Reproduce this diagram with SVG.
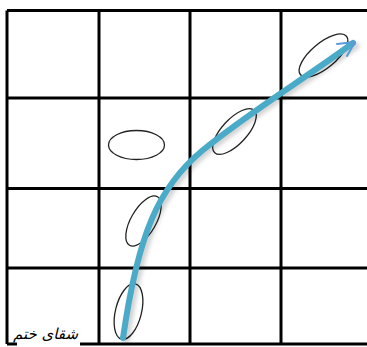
<svg xmlns="http://www.w3.org/2000/svg" width="367" height="347" viewBox="0 0 367 347">
<defs>
<style>
.grid{stroke:#000;stroke-width:3;fill:none}
.ell{fill:none;stroke:#222;stroke-width:1.3}
.path{fill:none;stroke:#4aabc8;stroke-width:6;stroke-linecap:round}
.shadow{fill:none;stroke:#000;stroke-opacity:0.18;stroke-width:7;stroke-linecap:round}
.head{fill:none;stroke:#5b9ad8;stroke-width:2;stroke-linecap:round;stroke-linejoin:round}
.lbl{font-family:"DejaVu Sans",sans-serif;font-size:15px;font-style:italic;fill:#000}
</style>
<filter id="blur" x="-10%" y="-10%" width="120%" height="120%"><feGaussianBlur stdDeviation="2"/></filter>
</defs>
<rect width="367" height="347" fill="#fff"/>
<g id="grid">
<path class="grid" d="M7 10.5H367M7 98H367M7 188.5H367M7 268H367M7 344H367"/>
<path class="grid" d="M7 10.5V344M99 10.5V344M190 10.5V344M281 10.5V344"/>
</g>
<g id="e1"><ellipse class="ell" cx="128.5" cy="311.5" rx="13" ry="28.5" transform="rotate(14 128.5 311.5)"/></g>
<g id="e2"><ellipse class="ell" cx="143.5" cy="221" rx="12.5" ry="28" transform="rotate(30 143.5 221)"/></g>
<g id="e3"><ellipse class="ell" cx="136.5" cy="145" rx="28" ry="14.5"/></g>
<g id="e4"><ellipse class="ell" cx="234.5" cy="131.5" rx="12.5" ry="29" transform="rotate(43 234.5 131.5)"/></g>
<g id="e5"><ellipse class="ell" cx="323.5" cy="55.5" rx="12.5" ry="30" transform="rotate(50 323.5 55.5)"/></g>
<g id="connectors">
<path class="shadow" filter="url(#blur)" d="M126 340C141 237 161 189 206 152S313 77 356 46"/>
<path class="path" d="M123 338C138 234.5 158 187 203 150S310 75 353 43"/>
<path class="head" d="M337 44L355 42L347 56"/>
</g>
<g id="label">
<rect x="17" y="320" width="63" height="27" fill="#fff"/>
<text class="lbl" x="78" y="339" text-anchor="end">شقای ختم</text>
</g>
</svg>
